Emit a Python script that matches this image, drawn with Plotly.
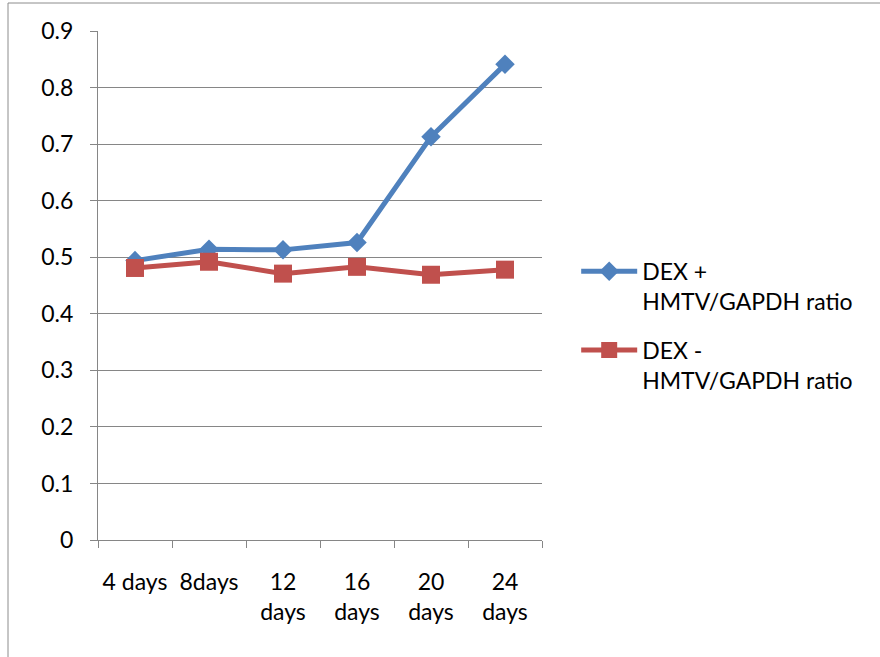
import plotly.graph_objects as go

categories = ["4 days", "8days", "12<br>days", "16<br>days", "20<br>days", "24<br>days"]
dex_plus = [0.494, 0.514, 0.513, 0.526, 0.713, 0.841]
dex_minus = [0.481, 0.492, 0.471, 0.483, 0.469, 0.478]
series_names = ["DEX +<br>HMTV/GAPDH ratio", "DEX -<br>HMTV/GAPDH ratio"]
y_ticks = [0, 0.1, 0.2, 0.3, 0.4, 0.5, 0.6, 0.7, 0.8, 0.9]
y_labels = ["0", "0.1", "0.2", "0.3", "0.4", "0.5", "0.6", "0.7", "0.8", "0.9"]

BLUE = "#4F81BD"
RED = "#C0504D"
GRID = "#868686"
FONT = "Lato"
FS = 23

fig = go.Figure()
fig.add_trace(go.Scatter(
    x=categories, y=dex_plus, name=series_names[0], mode="lines+markers",
    legendgroup="plus",
    line=dict(color=BLUE, width=5),
    marker=dict(symbol="diamond", size=15, color=BLUE),
))
fig.add_trace(go.Scatter(
    x=categories, y=dex_minus, name=series_names[1], mode="lines+markers",
    legendgroup="minus",
    line=dict(color=RED, width=5),
    marker=dict(symbol="square", size=18, color=RED),
))

fig.update_layout(
    width=880, height=657,
    margin=dict(l=98, r=338, t=31, b=117),
    paper_bgcolor="white", plot_bgcolor="white",
    font=dict(family=FONT, size=FS, color="black"),
    showlegend=True,
    legend=dict(
        x=1.077, y=0.57, xanchor="left", yanchor="top",
        font=dict(family=FONT, size=FS, color="black"),
        itemwidth=56, tracegroupgap=16, valign="top",
        bgcolor="rgba(0,0,0,0)",
    ),
    xaxis=dict(
        type="category", range=[-0.5, 5.5],
        showgrid=False, showline=True, linecolor=GRID, linewidth=1,
        ticks="outside", ticklen=7, tickcolor=GRID, tickson="boundaries",
        tickfont=dict(family=FONT, size=FS, color="black"),
        ticklabelstandoff=21,
        fixedrange=True,
    ),
    yaxis=dict(
        range=[0, 0.9], tickvals=y_ticks, ticktext=y_labels,
        showgrid=True, gridcolor=GRID, gridwidth=1,
        showline=True, linecolor=GRID, linewidth=1,
        ticks="outside", ticklen=7, tickcolor=GRID,
        tickfont=dict(family=FONT, size=FS, color="black"),
        ticklabelstandoff=12,
        zeroline=False, fixedrange=True,
    ),
    shapes=[dict(
        type="rect", xref="paper", yref="paper",
        x0=-0.2027, x1=1.9, y0=-0.3, y1=1.055,
        line=dict(color="#8C8C8C", width=1), fillcolor="rgba(0,0,0,0)",
        layer="below",
    )],
)

fig.write_html("out.html")
